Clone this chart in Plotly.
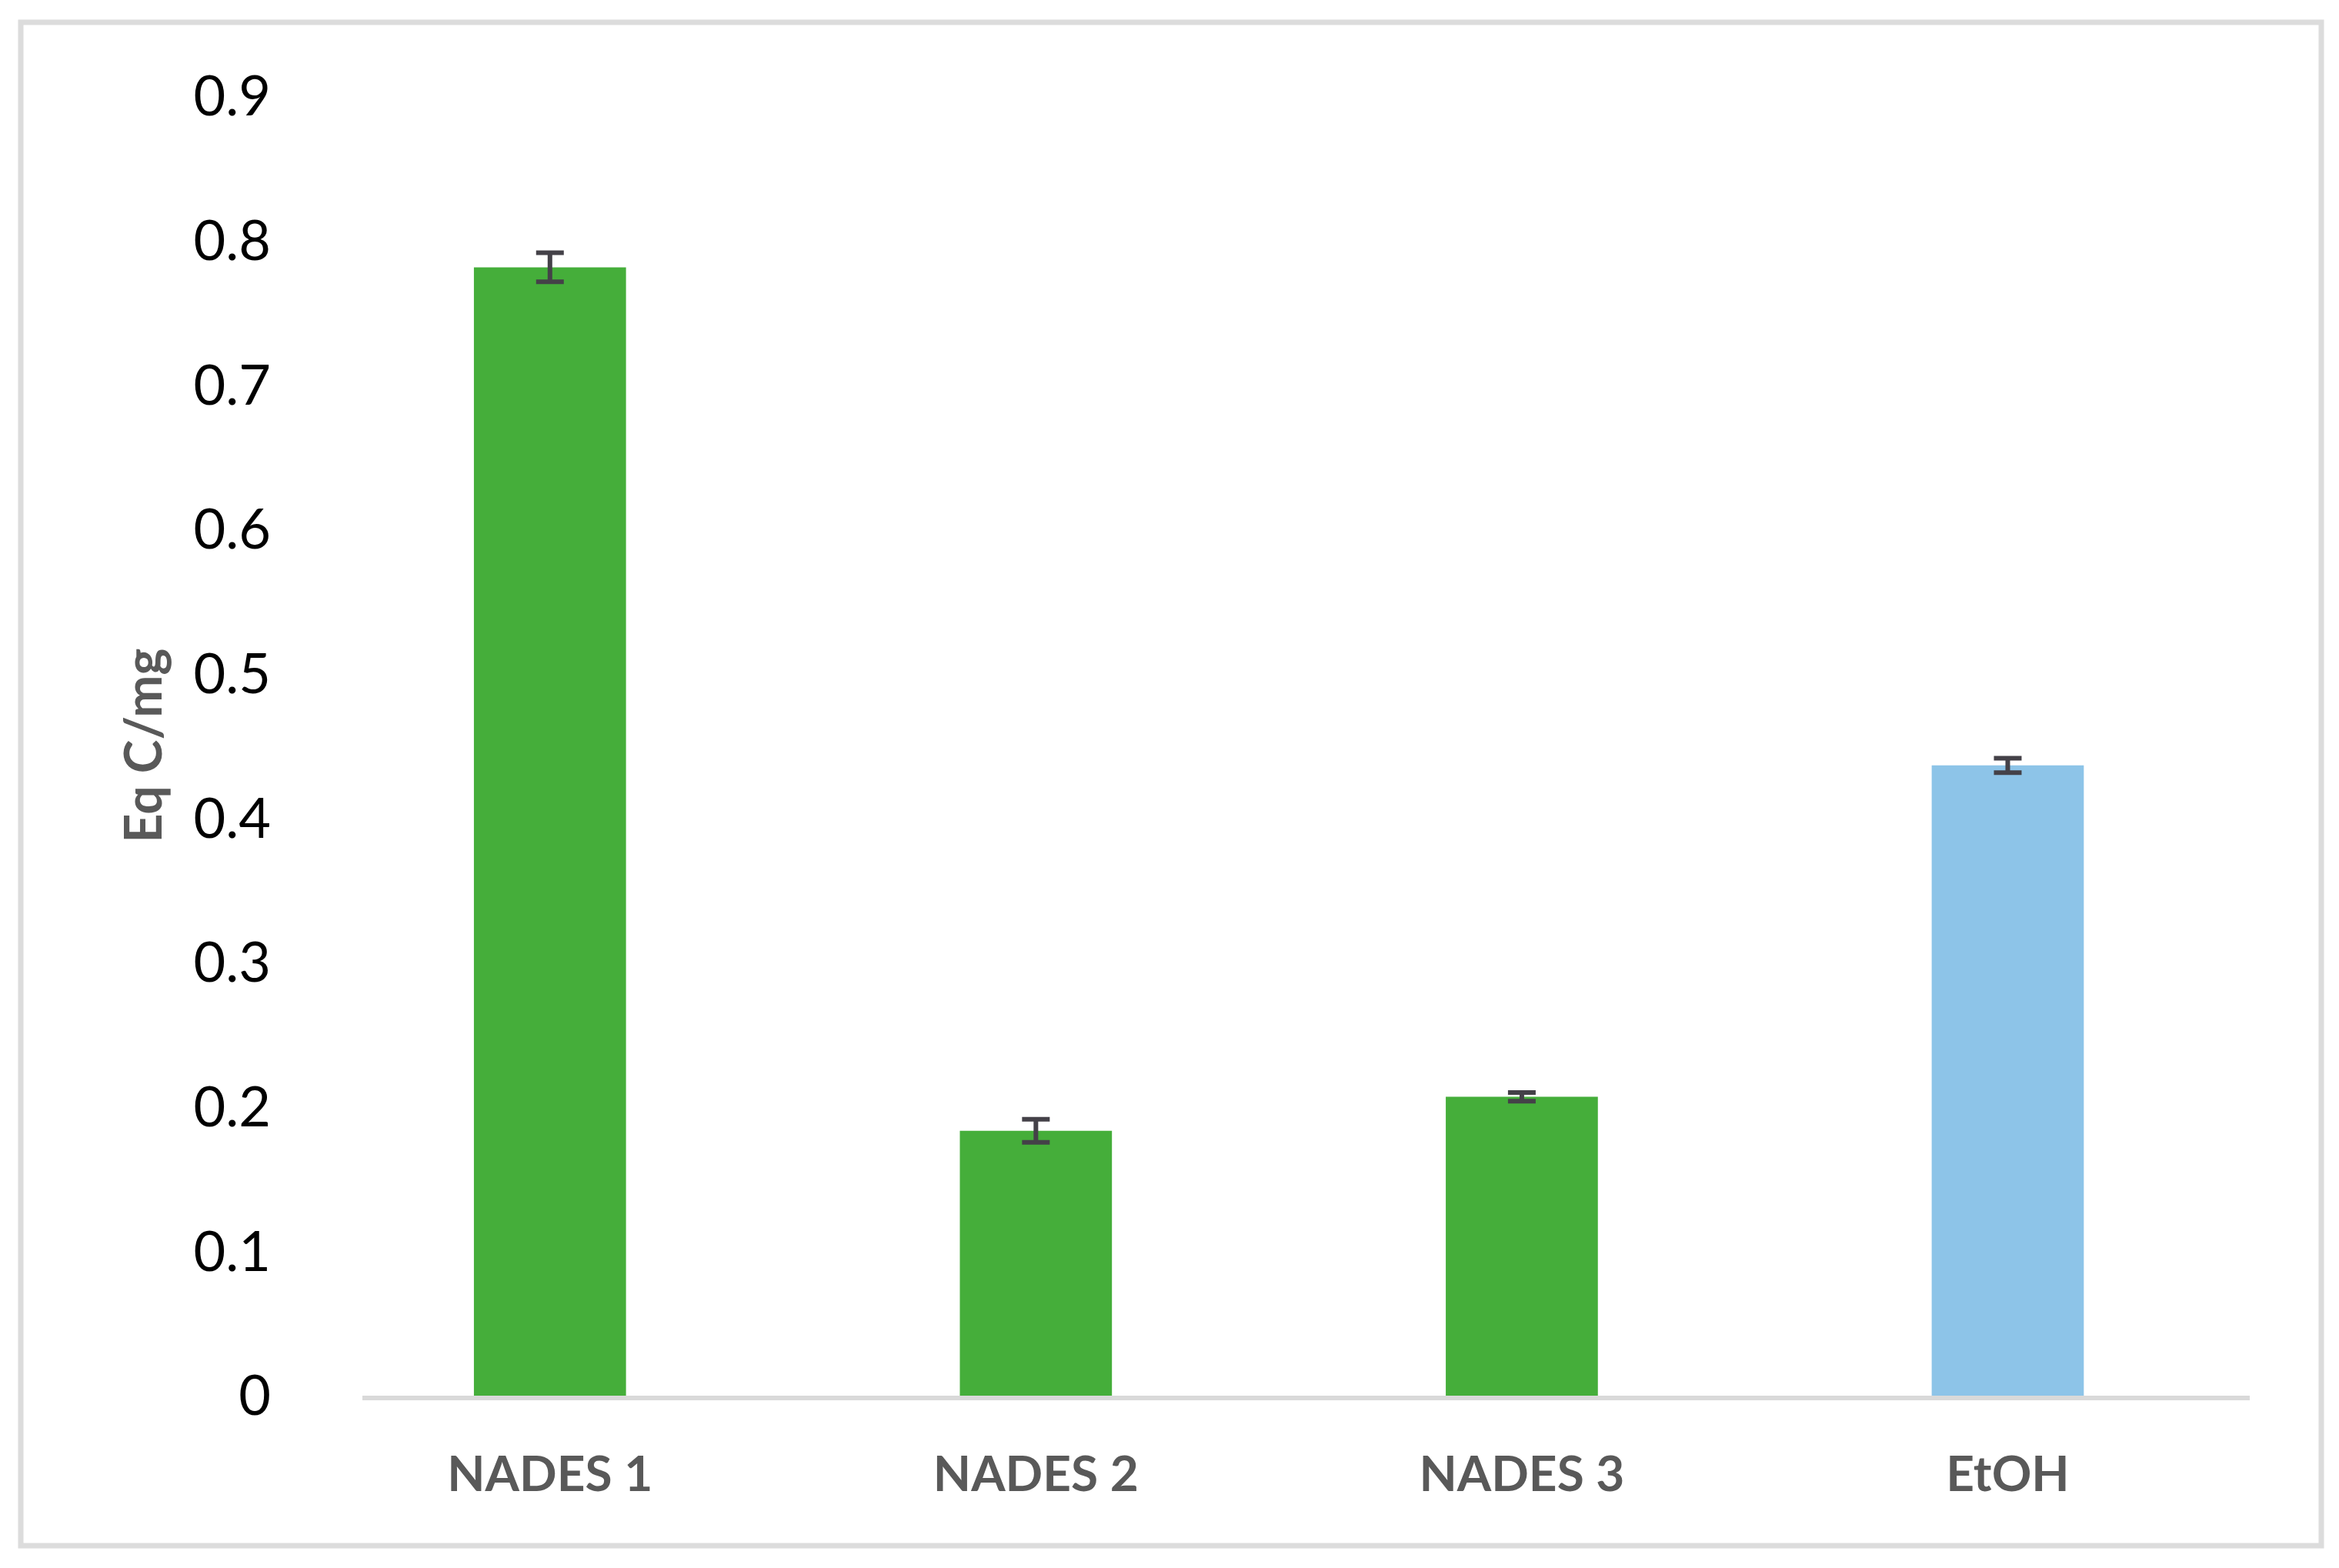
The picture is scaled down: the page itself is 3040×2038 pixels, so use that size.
import plotly.graph_objects as go

# values
categories = ["NADES 1", "NADES 2", "NADES 3", "EtOH"]
values = [0.7815, 0.1834, 0.207, 0.4365]
errors = [0.010, 0.008, 0.003, 0.005]
bar_colors = ["#45AE3A", "#45AE3A", "#45AE3A", "#8DC4E8"]

W, H = 3040, 2038
OFF = 8  # the page body adds an 8px margin around the plot
# plot area in pixels (as seen in the reference)
left, right, top, bottom = 471 - OFF, 2924 - OFF, 125 - OFF, 1814 - OFF
pw, ph = right - left, bottom - top


def px_x(x):
    return (x - OFF - left) / pw


def px_y(y):
    return (bottom - (y - OFF)) / ph


fig = go.Figure()
fig.add_trace(go.Bar(
    x=categories,
    y=values,
    marker=dict(color=bar_colors, line=dict(width=0)),
    error_y=dict(type="data", array=errors, visible=True,
                 color="#444148", thickness=6, width=18),
    showlegend=False,
))

# outer frame of the chart
fig.add_shape(type="rect", xref="paper", yref="paper",
              x0=px_x(27), x1=px_x(3017), y0=px_y(2009), y1=px_y(29),
              line=dict(color="#DCDCDC", width=7), layer="below")

fig.add_annotation(text="<b>Eq C/mg</b>", textangle=-90,
                   xref="paper", yref="paper", x=px_x(184), y=0.5,
                   xanchor="center", yanchor="middle", showarrow=False,
                   font=dict(family="Lato", size=66, color="#595959"))

fig.update_layout(
    width=W, height=H,
    margin=dict(l=left, r=W - right, t=top, b=H - bottom, pad=0),
    paper_bgcolor="white", plot_bgcolor="white",
    bargap=0.687,
    xaxis=dict(
        type="category",
        range=[-0.386, 3.498],
        showline=True, linecolor="#D9D9D9", linewidth=6,
        showgrid=False, zeroline=False, ticks="",
        ticklabelstandoff=41,
        tickfont=dict(family="Lato", size=64, color="#595959", weight="bold"),
    ),
    yaxis=dict(
        range=[0, 0.9], dtick=0.1, tick0=0,
        showline=False, showgrid=False, zeroline=False, ticks="",
        ticklabelstandoff=118,
        tickfont=dict(family="Lato", size=72, color="#000000"),
    ),
)

fig.write_html("out.html")
